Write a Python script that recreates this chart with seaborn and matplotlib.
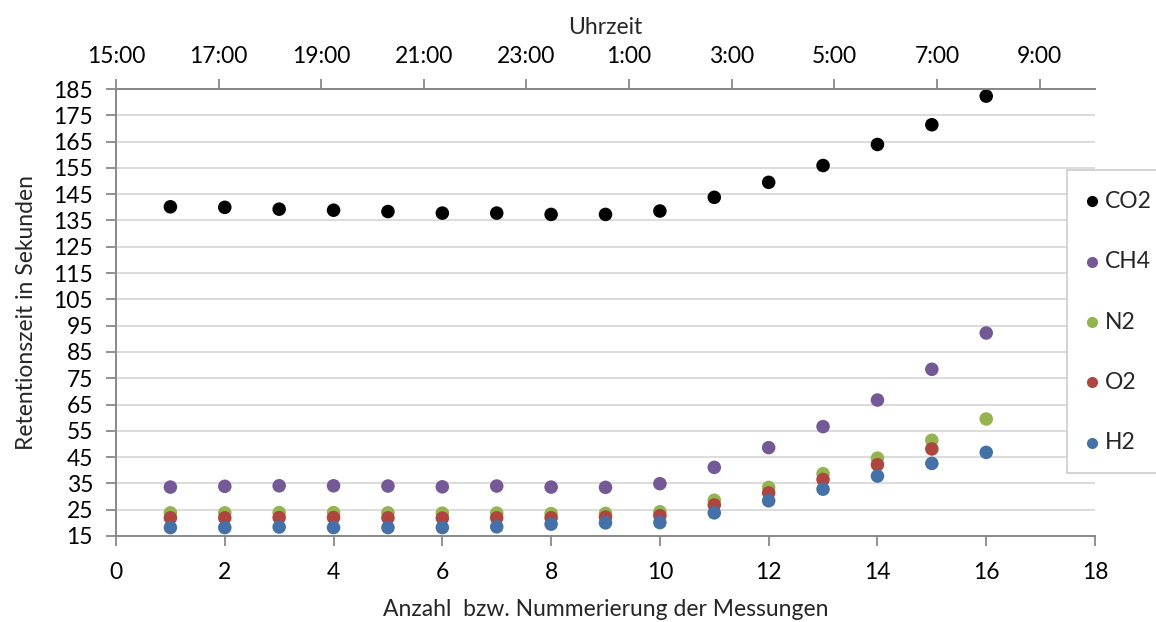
import numpy as np
import pandas as pd
import matplotlib
matplotlib.use("Agg")
import matplotlib.pyplot as plt
from matplotlib.lines import Line2D
from matplotlib.patches import Rectangle
import seaborn as sns

# Measurement numbers
messung = list(range(1, 17))

# Retention times in seconds per gas
co2 = [140.2, 140.0, 139.3, 138.9, 138.4, 137.8, 137.8, 137.3,
       137.3, 138.6, 143.8, 149.5, 155.9, 163.9, 171.4, 182.3]
ch4 = [33.6, 33.9, 34.1, 34.1, 34.0, 33.7, 34.0, 33.6,
       33.5, 34.9, 41.1, 48.6, 56.6, 66.7, 78.4, 92.2]
n2 = [23.8, 23.8, 23.9, 23.9, 23.8, 23.7, 23.7, 23.5,
      23.6, 24.2, 28.6, 33.5, 38.7, 44.6, 51.4, 59.5]
o2 = [21.9, 21.9, 22.0, 22.0, 21.9, 21.8, 21.9, 21.9,
      22.2, 22.7, 26.8, 31.4, 36.5, 42.1, 48.1]
h2 = [18.2, 18.2, 18.4, 18.2, 18.2, 18.2, 18.5, 19.5,
      20.0, 20.1, 23.8, 28.4, 32.8, 37.8, 42.6, 46.8]

gase = ["CO2", "CH4", "N2", "O2", "H2"]
farben = ["#000000", "#735A96", "#94B450", "#B0453F", "#4472A8"]

# Clock-time labels for the upper axis (hours after 15:00)
uhrzeit_labels = ["15:00", "17:00", "19:00", "21:00", "23:00",
                  "1:00", "3:00", "5:00", "7:00", "9:00"]

y_ticks = list(range(15, 186, 10))
x_ticks = list(range(0, 19, 2))

rows = []
for name, werte in zip(gase, [co2, ch4, n2, o2, h2]):
    for m, v in zip(messung, werte):
        rows.append({"Messung": m, "Zeit": v, "Gas": name})
df = pd.DataFrame(rows)

sns.set_theme(style="white")
plt.rcParams["font.family"] = ["Lato", "DejaVu Sans"]

FS = 16.5
W, H = 1156, 622

fig = plt.figure(figsize=(W / 100, H / 100), dpi=100)
ax = fig.add_axes([116 / W, 1 - 536 / H, (1095 - 116) / W, (536 - 89) / H])

achse = "#898989"
ax.set_axisbelow(True)
for yv in y_ticks:
    ax.axhline(yv, color="#D9D9D9", lw=1.3, zorder=0)

sns.scatterplot(data=df, x="Messung", y="Zeit", hue="Gas", hue_order=gase,
                palette=farben, s=95, edgecolor="none", linewidth=0, ax=ax,
                legend=False, zorder=3)

ax.set_xlim(0, 18)
ax.set_ylim(15, 185)
ax.set_xticks(x_ticks)
ax.set_yticks(y_ticks)
ax.tick_params(axis="both", labelsize=FS, colors="black", length=7, width=1.3,
               direction="out")
ax.tick_params(axis="x", pad=11.5)
ax.tick_params(axis="y", pad=9.5)
ax.tick_params(axis="both", color=achse)
ax.xaxis.set_ticks_position("bottom")
ax.yaxis.set_ticks_position("left")
for side in ["left", "bottom", "top"]:
    ax.spines[side].set_color(achse)
    ax.spines[side].set_linewidth(1.4)
ax.spines["right"].set_visible(False)

ax.set_xlabel("Anzahl  bzw. Nummerierung der Messungen", fontsize=FS, labelpad=12)
ax.set_ylabel("Retentionszeit in Sekunden", fontsize=FS, labelpad=11.5)

# Upper time axis
ax2 = ax.twiny()
ax2.set_xlim(0, 19.08)
ax2.set_xticks(np.arange(0, 19, 2))
ax2.set_xticklabels(uhrzeit_labels)
ax2.tick_params(axis="x", labelsize=FS, colors="black", length=7, width=1.3,
                direction="out", pad=8.5)
ax2.tick_params(axis="x", color=achse)
for side in ["left", "bottom", "right"]:
    ax2.spines[side].set_visible(False)
ax2.spines["top"].set_color(achse)
ax2.spines["top"].set_linewidth(1.4)
ax2.set_xlabel("Uhrzeit", fontsize=FS, labelpad=9)

# Legend box at the right edge
fig.patches.append(Rectangle((1067 / W, 1 - 473 / H), (1165 - 1067) / W, (473 - 170) / H,
                             transform=fig.transFigure, facecolor="white",
                             edgecolor="#D0D0D0", linewidth=1.3, zorder=5))
for i, (name, c) in enumerate(zip(gase, farben)):
    yy = 1 - (201.5 + i * 60.3) / H
    fig.add_artist(Line2D([1092 / W], [yy], transform=fig.transFigure, marker="o",
                          linestyle="none", markersize=8, markerfacecolor=c,
                          markeredgecolor="none", zorder=6))
    fig.text(1105 / W, yy, name, fontsize=FS, va="center", ha="left", zorder=6)

fig.savefig("out.png", dpi=100)
